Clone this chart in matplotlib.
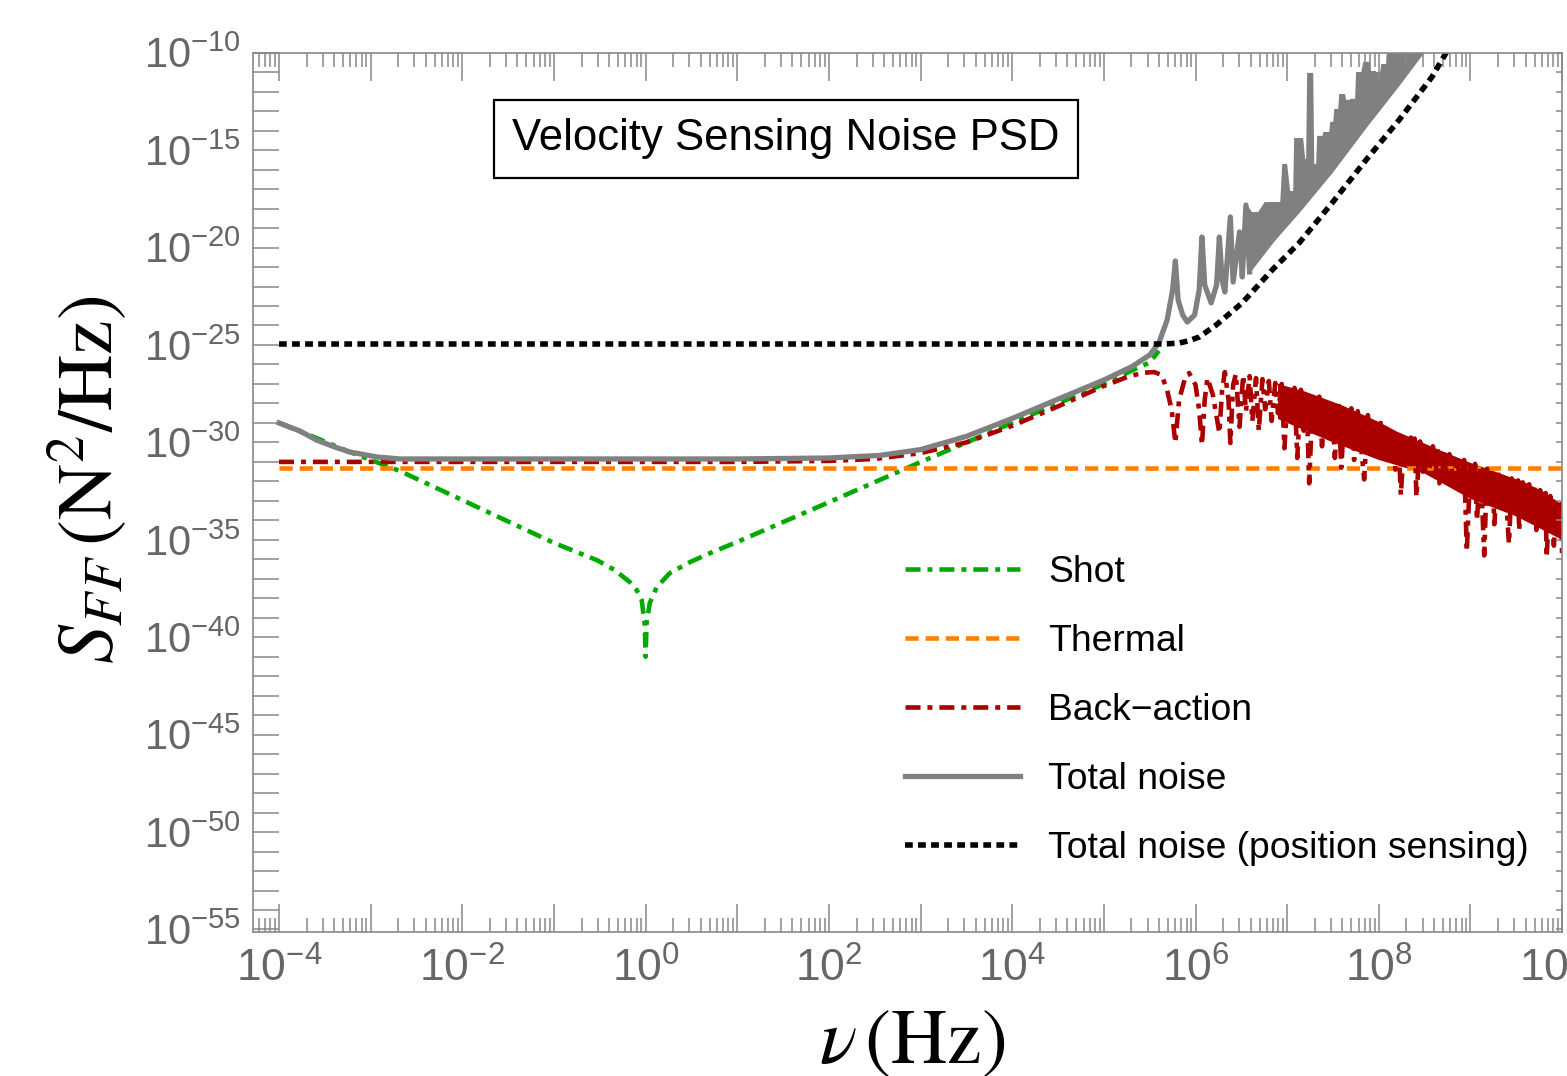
import numpy as np
import matplotlib
matplotlib.use('Agg')
import matplotlib.pyplot as plt
from matplotlib.ticker import LogLocator, NullLocator

plt.rcParams['font.family'] = ['Liberation Sans', 'DejaVu Sans']
plt.rcParams['mathtext.fontset'] = 'custom'
plt.rcParams['mathtext.rm'] = 'Liberation Sans'
plt.rcParams['mathtext.it'] = 'Liberation Sans:italic'
plt.rcParams['mathtext.bf'] = 'Liberation Sans:bold'
plt.rcParams['lines.scale_dashes'] = False

# ---- data as log10(nu / Hz) and log10(S / N^2 Hz^-1) ----
shot_lognu = [-4.0, -3.59, -3.23, -2.97, -2.68, -2.0, -1.0, -0.533, -0.337, -0.173,
              -0.097, -0.043, -0.01, 0.0, 0.01, 0.045, 0.121, 0.263, 0.481, 0.699,
              0.993, 2.0, 3.0, 4.0, 5.0, 5.31, 5.5, 5.6]
shot_logS = [-29.0, -29.78, -30.49, -30.95, -31.47, -32.96, -35.16, -36.04, -36.55, -37.17,
             -37.58, -38.09, -39.3, -41.0, -39.3, -38.25, -37.43, -36.71, -36.15, -35.69,
             -35.12, -33.07, -31.01, -29.0, -27.0, -26.3, -25.9, -25.3]

thermal_lognu = [-4.0, 10.0]
thermal_logS = [-31.33, -31.33]

ba_lognu = [-4.0, 1.03, 2.0, 2.5, 3.0, 3.5, 4.0, 4.5, 5.0, 5.28, 5.44, 5.55, 5.63, 5.69,
            5.74, 5.78, 5.82, 5.88, 5.93, 6.0, 6.04, 6.07, 6.10, 6.13, 6.19, 6.26, 6.29,
            6.32, 6.36, 6.38, 6.41, 6.44,
            6.48, 6.52, 6.55, 6.59, 6.62, 6.66, 6.69, 6.73, 6.76, 6.80, 6.83, 6.87,
            6.90, 6.94, 6.97, 7.01, 7.04, 7.08, 7.11, 7.15, 7.18, 7.21, 7.24, 7.28,
            7.31, 7.35, 7.38, 7.42, 7.45, 7.49, 7.52, 7.56, 7.59, 7.63, 7.66, 7.70,
            7.73, 7.77, 7.84, 7.88, 7.91, 7.95, 7.98, 8.02, 8.04, 8.08, 8.11, 8.15,
            8.18, 8.21, 8.24, 8.28, 8.31, 8.35, 8.37, 8.39, 8.41, 8.45, 8.48, 8.52,
            8.55, 8.59, 8.62, 8.64, 8.66, 8.70, 8.73, 8.77, 8.82, 8.85, 8.89, 8.93,
            8.96, 9.00, 9.03, 9.05, 9.07, 9.11, 9.15, 9.18, 9.22, 9.24, 9.26, 9.30,
            9.34, 9.37, 9.42, 9.45, 9.49, 9.52, 9.53, 9.57, 9.61, 9.64, 9.68, 9.70,
            9.72, 9.76, 9.80, 9.82, 9.83, 9.87, 9.91, 9.94, 9.97, 9.99, 10.0]
ba_logS = [-31.0, -31.0, -30.95, -30.85, -30.55, -30.0, -29.15, -28.15, -27.1, -26.6,
           -26.42, -26.39, -26.54, -27.31, -28.34, -30.03, -27.83, -26.80, -26.44, -27.05,
           -28.34, -30.13, -27.83, -26.70, -27.57, -29.52, -27.31, -26.39, -27.83, -30.03,
           -27.05, -26.49,
           -29.2, -26.55, -28.4, -26.6, -28.9, -26.7, -29.4, -26.75, -28.3, -26.85, -28.9, -26.95,
           -28.5, -27.0, -30.3, -27.1, -29.0, -27.2, -30.8, -27.3, -29.4, -27.4, -32.1, -27.55,
           -29.3, -27.65, -30.2, -27.8, -29.5, -27.9, -30.8, -28.0, -31.3, -28.1, -29.6, -28.25,
           -30.9, -28.4, -31.9, -28.6, -30.3, -28.8, -30.5, -29.0, -30.9, -29.1, -30.6, -29.3,
           -31.4, -29.4, -32.7, -29.6, -31.0, -29.75, -31.2, -29.8, -32.8, -29.95, -31.5, -30.1,
           -31.4, -30.2, -31.7, -30.3, -32.1, -30.45, -31.6, -30.6, -32.2, -30.8, -31.9, -30.9,
           -35.6, -31.05, -32.6, -31.1, -34.0, -31.2, -35.8, -31.35, -33.0, -31.5, -34.2, -31.55,
           -33.2, -31.7, -35.2, -31.85, -33.4, -31.95, -34.5, -32.05, -33.6, -32.15, -34.0, -32.25,
           -34.5, -32.45, -34.0, -32.6, -35.9, -32.75, -35.3, -32.95, -34.6, -33.15, -36.0]
# solid part of the back-action comb (upper and lower edge)
ba_band_top_lognu = [6.9, 7.2, 7.6, 8.0, 8.2, 8.66, 9.0, 9.31, 9.61, 9.8, 10.0]
ba_band_top_logS = [-27.0, -27.4, -28.1, -28.95, -29.45, -30.39, -31.05, -31.57, -32.09,
                    -32.55, -33.2]
ba_band_low_lognu = [6.9, 7.5, 8.0, 8.5, 9.0, 9.5, 10.0]
ba_band_low_logS = [-28.8, -30.0, -30.9, -31.6, -32.9, -33.8, -35.0]

total_lognu = [-4.0, -3.77, -3.59, -3.39, -3.23, -2.93, -2.68, -2.0, -1.0, 0.0, 1.0, 2.0,
               2.55, 3.0, 3.5, 4.0, 4.49, 5.0, 5.31, 5.5, 5.6, 5.69, 5.75, 5.78, 5.81, 5.86,
               5.91, 5.99, 6.04, 6.07, 6.10, 6.17, 6.23, 6.26, 6.29, 6.32, 6.38, 6.41, 6.48,
               6.51, 6.55, 6.59]
total_logS = [-29.0, -29.42, -29.88, -30.24, -30.49, -30.75, -30.85, -30.85, -30.85, -30.85,
              -30.85, -30.8, -30.67, -30.37, -29.69, -28.77, -27.8, -26.8, -26.1, -25.51,
              -24.89, -23.72, -22.18, -20.69, -22.69, -23.46, -23.82, -23.46, -22.18, -19.46,
              -21.92, -22.84, -21.92, -19.46, -21.67, -22.28, -18.43, -21.77, -19.2, -21.51,
              -17.82, -21.25]
# dense resonance region of the total noise: upper and lower edges of the band
band_top_lognu = [6.55, 6.61, 6.69, 6.76, 6.935, 6.957, 6.989, 7.022, 7.077, 7.087, 7.164,
                  7.186, 7.218, 7.229, 7.273, 7.284, 7.327, 7.338, 7.393, 7.404, 7.469, 7.480,
                  7.513, 7.524, 7.567, 7.578, 7.622, 7.633, 7.687, 7.698, 7.752, 7.763, 7.818,
                  7.840, 7.894, 7.905, 7.960, 7.970, 8.025, 8.036, 8.090, 8.101, 8.66]
band_top_logS = [-17.82, -18.23, -18.23, -17.72, -17.71, -15.76, -15.76, -17.15, -17.15,
                 -14.43, -14.43, -15.50, -15.50, -11.09, -11.09, -15.76, -15.76, -14.32,
                 -14.32, -14.12, -14.12, -13.60, -13.60, -12.94, -12.94, -12.17, -12.17,
                 -12.47, -12.47, -12.42, -12.42, -11.04, -11.04, -10.52, -10.52, -10.99,
                 -10.99, -11.04, -11.04, -10.63, -10.63, -9.6, -8.83]
band_low_lognu = [6.59, 6.86, 7.13, 7.49, 7.86, 8.22, 8.49, 8.66]
band_low_logS = [-21.25, -19.61, -18.17, -16.12, -13.81, -11.65, -9.96, -8.83]

pos_lognu = [-4.0, 5.495, 5.659, 5.822, 5.931, 6.04, 6.226, 6.509, 6.836, 7.131, 7.49,
             7.861, 8.221, 8.58, 8.733, 8.875]
pos_logS = [-24.95, -24.95, -24.95, -24.9, -24.78, -24.59, -23.97, -22.84, -21.15, -19.76,
            -17.71, -15.5, -13.45, -11.24, -10.01, -8.98]

labels = ['Shot', 'Thermal', 'Back\u2212action', 'Total noise',
          'Total noise (position sensing)']
x_tick_exps = list(range(-4, 11))
y_tick_exps = list(range(-55, -9))


def p10(a):
    return 10.0 ** np.asarray(a)


fig = plt.figure(figsize=(15.67, 10.76), dpi=100)
ax = fig.add_axes([0.1615, 0.1338, 0.8354, 0.8172])
ax.set_xscale('log')
ax.set_yscale('log')

dashdot = (0, (10.8, 5.0, 3.6, 5.0))
ax.plot(p10(shot_lognu), p10(shot_logS), color='#00aa00', lw=3.3, ls=dashdot, label=labels[0])
ax.plot(p10(thermal_lognu), p10(thermal_logS), color='#ff8000', lw=3.3,
        ls=(0, (9.5, 5.0)), label=labels[1])
ax.fill(p10(ba_band_top_lognu + ba_band_low_lognu[::-1]),
        p10(ba_band_top_logS + ba_band_low_logS[::-1]), color='#aa0000', lw=0)
ax.plot(p10(ba_lognu), p10(ba_logS), color='#aa0000', lw=3.3, ls=dashdot, label=labels[2])
ax.plot(p10(total_lognu), p10(total_logS), color='#808080', lw=3.8, label=labels[3])
ax.fill(p10(band_top_lognu + band_low_lognu[::-1]), p10(band_top_logS + band_low_logS[::-1]),
        color='#808080', lw=1.5)
ax.plot(p10(pos_lognu), p10(pos_logS), color='black', lw=4.0, ls=(0, (5.6, 3.8)),
        label=labels[4])

ax.set_xlim(10 ** -4.283, 1e10)
ax.set_ylim(10 ** -55.13, 1e-10)

spine_col = '#888888'
for s in ax.spines.values():
    s.set_color(spine_col)
    s.set_linewidth(1.2)

ax.set_xticks(p10(x_tick_exps),
              ['$10^{%d}$' % e if e % 2 == 0 else '' for e in x_tick_exps])
ax.xaxis.set_minor_locator(LogLocator(base=10, subs=np.arange(2, 10), numticks=200))
ax.set_yticks(p10(y_tick_exps),
              ['$10^{%d}$' % e if e % 5 == 0 else '' for e in y_tick_exps])
ax.yaxis.set_minor_locator(NullLocator())
ax.tick_params(axis='x', which='major', direction='in', length=20, width=1.1,
               top=True, bottom=True, color=spine_col, labelcolor='#666666',
               labelsize=32, pad=11)
ax.tick_params(axis='x', which='minor', direction='in', length=10, width=1.1,
               top=True, bottom=True, color=spine_col)
ax.tick_params(axis='y', which='major', direction='in', length=19, width=1.1,
               left=True, right=False, color=spine_col, labelcolor='#666666',
               labelsize=30, pad=9)

# short ticks on the right frame edge
ax2 = ax.twinx()
ax2.set_yscale('log')
ax2.set_ylim(ax.get_ylim())
ax2.set_yticks(p10(y_tick_exps), [''] * len(y_tick_exps))
ax2.yaxis.set_minor_locator(NullLocator())
ax2.tick_params(axis='y', direction='in', length=4, width=1.1, color=spine_col)
for s in ax2.spines.values():
    s.set_visible(False)

ax.text(0.407, 0.9019, 'Velocity Sensing Noise PSD', transform=ax.transAxes,
        ha='center', va='center', fontsize=31.5, zorder=10,
        bbox=dict(boxstyle='square,pad=0.42', fc='white', ec='black', lw=1.6))

ax.legend(loc='upper left', bbox_to_anchor=(0.498, 0.4286), frameon=False,
          fontsize=26.8, handlelength=3.1, handletextpad=0.75, labelspacing=0.91,
          borderpad=0, borderaxespad=0)

fig.text(87 / 1567, 1 - 480 / 1076, r'$S_{FF}\,(\mathrm{N}^2/\mathrm{Hz})$',
         rotation=90, ha='center', va='center', fontsize=56, math_fontfamily='stix')
fig.text(912 / 1567, 1 - 1043 / 1076, r'$\nu\,(\mathrm{Hz})$',
         ha='center', va='center', fontsize=56, math_fontfamily='stix')

fig.savefig('out.png', dpi=100)
